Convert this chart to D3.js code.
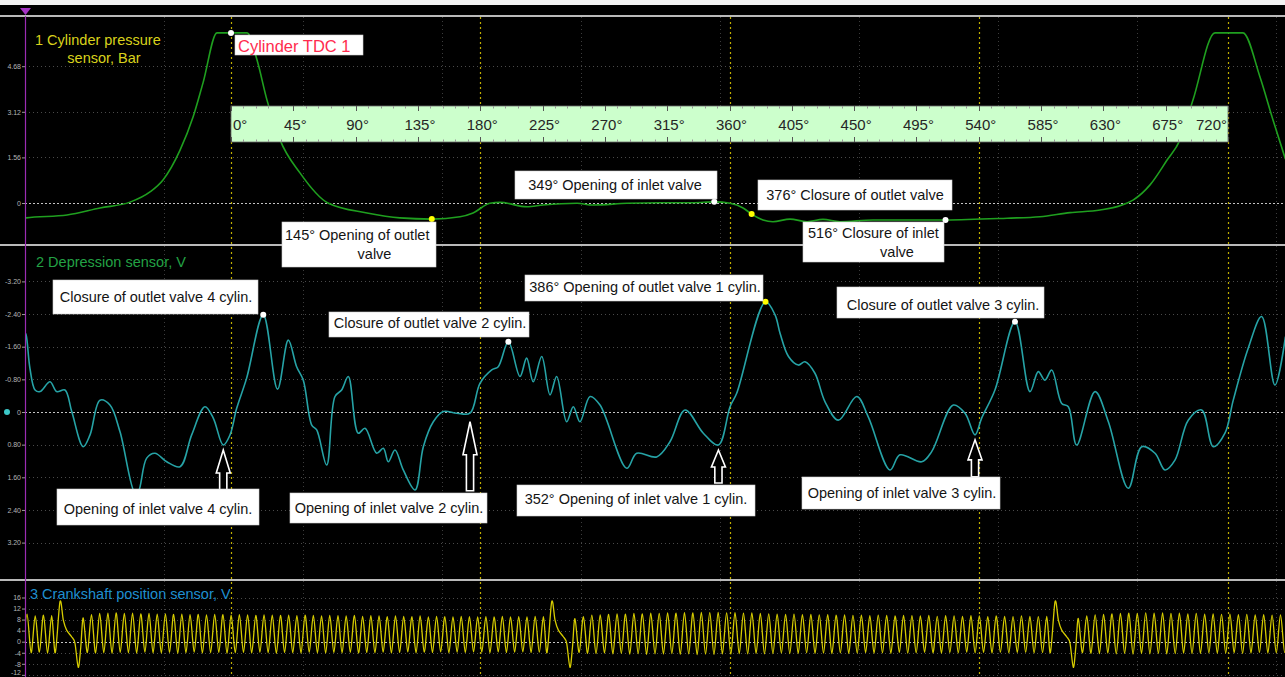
<!DOCTYPE html>
<html>
<head>
<meta charset="utf-8">
<script src="https://cdn.jsdelivr.net/npm/d3@7"></script>
<style>
  html, body { margin: 0; padding: 0; background: #000; overflow: hidden; }
  svg { display: block; font-family: "Liberation Sans", Arial, sans-serif; }
</style>
</head>
<body>
<svg id="chart" width="1285" height="677"></svg>
<script>
// ---------------- data ----------------
// Channel 1: cylinder pressure, [crank angle °, bar]
const pressure = [
  [-149, -0.52], [-148, -0.51], [-118.4, -0.41], [-94.6, -0.17], [-72.9, 0.03], [-58.5, 0.38],
  [-49.1, 0.79], [-36.8, 1.81], [-27.4, 2.94], [-20.2, 4.11], [-10.1, 5.82], [0, 5.82], [11.6, 5.82],
  [18.8, 4.89], [26, 3.52], [35.4, 2.16], [49.8, 1.03], [70, 0], [98.2, -0.34], [122, -0.51],
  [145, -0.55], [165.4, -0.47], [174.8, -0.34], [187, -0.01], [194.3, 0.02], [213.8, -0.13],
  [225.3, -0.07], [249.9, -0.01], [261.4, -0.07], [286, -0.01], [309.8, 0.01], [333.6, 0.01],
  [349, 0.04], [360.4, -0.01], [369.8, -0.17], [376, -0.38], [384.2, -0.58], [391.4, -0.64],
  [403.7, -0.55], [416, -0.64], [427.5, -0.56], [439.8, -0.64], [463.6, -0.58], [488.2, -0.58],
  [516, -0.58], [560.4, -0.52], [584.2, -0.47], [606, -0.33], [627.6, -0.24], [651.4, 0.10],
  [663.7, 0.62], [676, 1.47], [685.4, 2.16], [694.7, 3.52], [710.6, 5.82], [720, 5.82],
  [730.8, 5.82], [743.1, 4.31], [752.5, 2.84], [761.5, 1.50]
];
const pressureTicks = [0, 1.56, 3.12, 4.68];

// Channel 2: depression sensor, [crank angle °, V]
const depression = [
  [-149, -1.95], [-148, -1.89], [-145.2, -1.07], [-141.5, -0.54], [-137.9, -0.50], [-130.7, -0.74],
  [-125.9, -0.50], [-119.9, -0.54], [-115.0, -0.01], [-106.7, 0.85], [-101.8, 0.56], [-94.6, -0.29],
  [-87.4, -0.17], [-80.2, 0.48], [-69.3, 1.99], [-66.9, 1.95], [-60.9, 1.13], [-54.9, 1.01],
  [-46.4, 1.22], [-36.8, 1.34], [-28.4, 0.56], [-18.8, -0.13], [-12.8, 0.15], [-5.6, 0.81],
  [-0.7, 0.56], [4.1, -0.09], [11.3, -0.83], [23.3, -2.38], [33.6, -0.56], [41.4, -1.76],
  [47.4, -1.11], [52.2, -0.78], [58.3, 0.32], [61.9, 0.44], [69.1, 1.30], [75.1, -0.38],
  [79.9, -0.54], [84.7, -0.87], [91.9, 0.52], [96.8, 0.40], [105.2, 1.01], [110.0, 0.89],
  [113.6, 1.22], [118.4, 0.93], [124.4, 1.42], [132.9, 1.91], [138.9, 0.85], [146.1, 0.24],
  [153.3, -0.01], [163.0, 0.03], [172.6, 0.03], [179.8, -0.70], [188.3, -1.03], [193.0, -1.11],
  [200.3, -1.72], [208.7, -0.87], [213.5, -1.32], [218.3, -0.74], [224.4, -1.36], [230.4, -0.42],
  [235.2, -0.87], [242.4, 0.24], [247.2, -0.13], [252.0, 0.24], [259.3, -0.38], [266.5, -0.17],
  [285.8, 1.38], [293.0, 1.01], [307.4, 1.10], [317.0, 0.73], [327.9, -0.05], [341.1, 0.52],
  [352, 0.81], [360.4, -0.13], [365.2, -0.46], [386, -2.70], [392.9, -2.38], [396.5, -1.93],
  [402.6, -1.36], [409.7, -1.15], [414.5, -1.23], [421.7, -0.95], [429.0, -0.25], [438.6, 0.20],
  [451.9, -0.38], [460.2, 0.12], [475.9, 1.42], [483.1, 1.05], [498.8, 1.22], [506.0, 0.97],
  [521.6, -0.17], [530.1, 0.03], [537.3, 0.56], [542.1, 0.15], [551.7, -0.54], [566.2, -2.21],
  [577.0, -0.50], [583.0, -0.99], [587.8, -0.78], [592.7, -1.03], [599.9, -0.21], [604.7, -0.13],
  [610.7, 0.81], [624.0, -0.50], [633.6, 0.24], [648.0, 1.87], [657.7, 0.85], [667.3, 1.01],
  [674.5, 1.42], [681.7, 1.18], [691.3, 0.20], [701.0, -0.05], [709.4, 0.85], [717.8, 0.52],
  [723.8, -0.29], [734.6, -1.56], [744.3, -2.34], [753.9, -0.66], [761.5, -1.85]
];
const depressionTicks = [-3.2, -2.4, -1.6, -0.8, 0, 0.8, 1.6, 2.4, 3.2];

// Channel 3: crankshaft position sensor (60-2 wheel)
// angles of the missing-tooth spike in each revolution
const crankGapDeg = [-123.5, 231.6, 595.1];
// waveform around the missing teeth, [° from spike, V]
const crankGapShape = [[-3.4, -4.0], [0, 14.5], [2.4, 7.8], [4.8, 4.2], [8.4, 1.8], [10.8, -0.5], [13.2, -9.3], [15.0, -2.0]];
const crankLastToothBefore = 6.0;   // last regular tooth peak, ° before spike
const crankFirstToothAfter = 16.8;  // first regular tooth peak, ° after spike
// tooth peak / trough voltages per revolution segment
const crankPeaksA = [10.0, 9.3, 9.6, 9.4];
const crankTroughsA = [-4.0, -3.8, -4.1];
const crankPeaksB = [
  8.6, 9.8, 10.2, 10.3, 10.4, 10.2, 10.3, 10.1, 10.2, 10.0,
  10.1, 9.9, 10.0, 9.8, 9.9, 9.7, 9.9, 9.8, 9.6, 9.8,
  9.7, 9.5, 9.7, 9.6, 9.5, 9.6, 9.4, 9.6, 9.5, 9.3,
  9.5, 9.4, 9.3, 9.5, 9.2, 9.4, 9.3, 9.1, 9.3, 9.2,
  9.1, 9.3, 9.0, 9.2, 9.1, 9.0, 9.2, 9.1, 9.0, 9.1,
  9.0, 9.2, 9.0, 9.1, 9.0, 9.2, 9.1
];
const crankTroughsB = [
  -3.9, -4.1, -4.0, -4.2, -3.9, -4.0, -4.1, -3.8, -4.0, -4.1,
  -3.9, -4.2, -4.0, -3.8, -4.1, -4.0, -3.9, -4.2, -4.0, -3.9,
  -4.1, -3.8, -4.0, -4.2, -3.9, -4.0, -4.1, -3.8, -4.0, -4.1,
  -3.9, -4.0, -3.8, -4.1, -3.9, -4.0, -3.8, -4.1, -3.9, -3.7,
  -4.0, -3.8, -3.9, -3.7, -4.0, -3.8, -3.9, -3.7, -3.8, -4.0,
  -3.7, -3.9, -3.8, -3.7, -3.9, -3.8
];
const crankPeaksC = [
  8.3, 9.1, 9.6, 9.7, 9.9, 10.1, 10.0, 10.2, 10.1, 10.3,
  10.2, 10.4, 10.3, 10.5, 10.4, 10.6, 10.5, 10.6, 10.4, 10.5,
  10.3, 10.4, 10.2, 10.1, 10.0, 9.9, 10.0, 9.8, 9.9, 9.7,
  9.8, 9.6, 9.7, 9.5, 9.6, 9.4, 9.6, 9.5, 9.3, 9.5,
  9.4, 9.3, 9.5, 9.2, 9.4, 9.3, 9.2, 9.4, 9.3, 9.1,
  9.3, 9.2, 9.1, 9.3, 9.2, 9.1, 9.2
];
const crankTroughsC = [
  -3.9, -4.2, -4.3, -4.1, -4.4, -4.2, -4.5, -4.3, -4.6, -4.4,
  -4.5, -4.3, -4.6, -4.4, -4.7, -4.5, -4.6, -4.4, -4.5, -4.3,
  -4.4, -4.2, -4.4, -4.3, -4.1, -4.3, -4.2, -4.0, -4.2, -4.1,
  -4.3, -4.0, -4.2, -4.1, -3.9, -4.1, -4.0, -4.2, -3.9, -4.1,
  -4.0, -3.8, -4.0, -4.1, -3.9, -4.0, -3.8, -4.0, -3.9, -4.1,
  -3.8, -4.0, -3.9, -3.8, -4.0, -3.9
];
const crankPeaksD = [
  8.4, 9.3, 9.7, 9.9, 10.1, 10.2, 10.3, 10.2, 10.4, 10.3,
  10.4, 10.2, 10.3, 10.1, 10.2, 10.0, 10.1, 9.9, 10.0, 9.8,
  9.9, 9.7, 9.8, 9.6, 9.7, 9.6
];
const crankTroughsD = [
  -4.0, -4.2, -4.3, -4.1, -4.4, -4.2, -4.5, -4.3, -4.4, -4.2,
  -4.4, -4.3, -4.1, -4.3, -4.2, -4.0, -4.2, -4.1, -4.0, -4.2,
  -4.1, -3.9, -4.1, -4.0, -3.9
];
const crankTicks = [-12, -8, -4, 0, 4, 8, 12, 16];

// Crank-angle overlay scale labels
const angleLabels = d3.range(0, 721, 45);

// Event markers on the pressure trace
const pressureEvents = [
  { deg: 0, color: "#ffffff" },
  { deg: 145, color: "#ffff00" },
  { deg: 349, color: "#ffffff" },
  { deg: 376, color: "#ffff00" },
  { deg: 516, color: "#ffffff" }
];
// Event markers on the depression trace
const depressionEvents = [
  { deg: 23.3, color: "#ffffff" },
  { deg: 200.3, color: "#ffffff" },
  { deg: 386, color: "#ffff00" },
  { deg: 566.2, color: "#ffffff" }
];
// Inlet-valve opening arrows on the depression trace
const depressionArrows = [
  { deg: -5.6, gap: 5, len: 43, head: 23 },
  { deg: 172.6, gap: 8.5, len: 69, head: 33 },
  { deg: 352, gap: 5, len: 33, head: 17 },
  { deg: 537.3, gap: 5, len: 37, head: 20 }
];

// ---------------- layout ----------------
const W = 1285, H = 677;
const plotL = 25, plotR = 1285;
const panels = {
  p1: { top: 17, bottom: 244 },
  p2: { top: 246, bottom: 579 },
  p3: { top: 581, bottom: 677 }
};

const x = d3.scaleLinear().domain([0, 720]).range([231, 1228]);
const yP = d3.scaleLinear().domain([0, 4.68]).range([203, 66.2]);
const yD = d3.scaleLinear().domain([-3.2, 3.2]).range([281.4, 542.6]);
const yC = d3.scaleLinear().domain([0, 16]).range([641.7, 597.5]);

const svg = d3.select("#chart");
const defs = svg.append("defs");
Object.entries(panels).forEach(([k, p]) => {
  defs.append("clipPath").attr("id", "clip-" + k)
    .append("rect").attr("x", plotL + 1).attr("y", p.top)
    .attr("width", plotR - plotL).attr("height", p.bottom - p.top);
});

svg.append("rect").attr("width", W).attr("height", H).attr("fill", "#000");
svg.append("rect").attr("x", 0).attr("y", 0).attr("width", W).attr("height", 5).attr("fill", "#f3f3f3");

// ---- grids ----
const grid = svg.append("g");
const timeStep = x.invert(164) - x.invert(25);
const timeGrid = d3.range(x.invert(plotL) + timeStep, 765, timeStep);

function hGrid(scale, ticks, p) {
  ticks.forEach(v => {
    grid.append("line")
      .attr("x1", plotL).attr("x2", plotR)
      .attr("y1", Math.round(scale(v)) + 0.5).attr("y2", Math.round(scale(v)) + 0.5)
      .attr("stroke", v === 0 ? "#c4c4c4" : "#4a4a4a")
      .attr("stroke-width", 1)
      .attr("stroke-dasharray", v === 0 ? "2,2" : "1,3");
  });
  timeGrid.forEach(d => {
    grid.append("line")
      .attr("x1", Math.round(x(d)) + 0.5).attr("x2", Math.round(x(d)) + 0.5)
      .attr("y1", p.top).attr("y2", p.bottom)
      .attr("stroke", "#3c3c3c").attr("stroke-dasharray", "1,3");
  });
}
hGrid(yP, pressureTicks, panels.p1);
hGrid(yD, depressionTicks, panels.p2);
hGrid(yC, crankTicks, panels.p3);

// TDC / BDC markers every 180°
d3.range(0, 721, 180).forEach(d => {
  grid.append("line")
    .attr("x1", Math.round(x(d)) + 0.5).attr("x2", Math.round(x(d)) + 0.5)
    .attr("y1", 17).attr("y2", H)
    .attr("stroke", "#bfae00").attr("stroke-width", 1.2)
    .attr("stroke-dasharray", "2,3");
});

// ---- panel frames ----
[16, 245, 580].forEach(yy => {
  svg.append("line").attr("x1", 0).attr("x2", W).attr("y1", yy).attr("y2", yy)
    .attr("stroke", "#b9b9b9").attr("stroke-width", 2);
});
svg.append("line").attr("x1", plotL + 0.5).attr("x2", plotL + 0.5).attr("y1", 16).attr("y2", H)
  .attr("stroke", "#9b2cb3").attr("stroke-width", 1.2);
svg.append("path").attr("d", "M20,8 L31,8 L25.5,15 Z").attr("fill", "#a533c4");

// ---- y axes ----
function yAxis(scale, ticks, fmt) {
  const g = svg.append("g").attr("transform", `translate(${plotL},0)`)
    .call(d3.axisLeft(scale).tickValues(ticks).tickFormat(fmt).tickSize(3).tickPadding(1));
  g.select(".domain").remove();
  g.selectAll("line").attr("stroke", "#9a9a9a");
  g.selectAll("text").attr("fill", "#b5b5b5").attr("font-size", 7)
    .attr("font-family", "Liberation Sans, Arial, sans-serif");
  return g;
}
yAxis(yP, pressureTicks, v => v === 0 ? "0" : v.toFixed(2));
yAxis(yD, depressionTicks, v => v === 0 ? "0" : v.toFixed(2));
const crankAxis = yAxis(yC, crankTicks, v => String(v));
// keep the lowest label inside the frame
crankAxis.selectAll(".tick").filter(v => v === -12).select("text").attr("dy", "-0.1em");

// ---- traces ----
const lineP = d3.line().x(d => x(d[0])).y(d => yP(d[1])).curve(d3.curveMonotoneX);
svg.append("path").datum(pressure).attr("clip-path", "url(#clip-p1)")
  .attr("d", lineP).attr("fill", "none").attr("stroke", "#1f9f1f").attr("stroke-width", 1.6);

const lineD = d3.line().x(d => x(d[0])).y(d => yD(d[1])).curve(d3.curveCatmullRom.alpha(0.5));
svg.append("path").datum(depression).attr("clip-path", "url(#clip-p2)")
  .attr("d", lineD).attr("fill", "none").attr("stroke", "#26a3a6").attr("stroke-width", 1.6);

// crank signal assembled tooth by tooth
function teeth(start, pitch, peaks, troughs) {
  const pts = [];
  peaks.forEach((p, i) => {
    pts.push([start + i * pitch, p]);
    if (i < troughs.length) pts.push([start + (i + 0.5) * pitch, troughs[i]]);
  });
  return pts;
}
const pitchB = (crankGapDeg[1] - crankLastToothBefore - (crankGapDeg[0] + crankFirstToothAfter)) / (crankPeaksB.length - 1);
const pitchC = (crankGapDeg[2] - crankLastToothBefore - (crankGapDeg[1] + crankFirstToothAfter)) / (crankPeaksC.length - 1);
const gapPts = g => crankGapShape.map(([o, v]) => [g + o, v]);
const crank = [].concat(
  [[crankGapDeg[0] - crankLastToothBefore - (crankPeaksA.length - 0.5) * pitchB, -3.9]],
  teeth(crankGapDeg[0] - crankLastToothBefore - (crankPeaksA.length - 1) * pitchB, pitchB, crankPeaksA, crankTroughsA),
  gapPts(crankGapDeg[0]),
  teeth(crankGapDeg[0] + crankFirstToothAfter, pitchB, crankPeaksB, crankTroughsB),
  gapPts(crankGapDeg[1]),
  teeth(crankGapDeg[1] + crankFirstToothAfter, pitchC, crankPeaksC, crankTroughsC),
  gapPts(crankGapDeg[2]),
  teeth(crankGapDeg[2] + crankFirstToothAfter, pitchC, crankPeaksD, crankTroughsD)
);
const lineC = d3.line().x(d => x(d[0])).y(d => yC(d[1])).curve(d3.curveCardinal.tension(0.1));
svg.append("path").datum(crank).attr("clip-path", "url(#clip-p3)")
  .attr("d", lineC).attr("fill", "none").attr("stroke", "#d6cc00").attr("stroke-width", 1.3);

// ---- channel titles ----
const ttl = svg.append("g").attr("font-size", 14.5);
ttl.append("text").attr("x", 35).attr("y", 45).attr("fill", "#d9d21c").text("1 Cylinder pressure");
ttl.append("text").attr("x", 104).attr("y", 63).attr("text-anchor", "middle").attr("fill", "#d9d21c").text("sensor, Bar");
ttl.append("text").attr("x", 36).attr("y", 267).attr("fill", "#23a245").text("2 Depression sensor, V");
ttl.append("text").attr("x", 30).attr("y", 599).attr("fill", "#1f8fd0").text("3 Crankshaft position sensor, V");
svg.append("circle").attr("cx", 7).attr("cy", yD(0)).attr("r", 3).attr("fill", "#3cc8c8");

// ---- crank-angle overlay scale ----
const strip = svg.append("g");
const sTop = 106, sBot = 142;
strip.append("rect").attr("x", x(0)).attr("y", sTop).attr("width", x(720) - x(0)).attr("height", sBot - sTop)
  .attr("fill", "#ccffcc").attr("stroke", "#6a6a6a").attr("stroke-width", 0.8);
d3.range(0, 721, 9).forEach(d => {
  const major = d % 45 === 0;
  const len = major ? 5 : 2.5;
  const xx = Math.round(x(d)) + 0.5;
  strip.append("line").attr("x1", xx).attr("x2", xx).attr("y1", sTop).attr("y2", sTop + len)
    .attr("stroke", major ? "#555" : "#999").attr("stroke-width", 1);
  strip.append("line").attr("x1", xx).attr("x2", xx).attr("y1", sBot - len).attr("y2", sBot)
    .attr("stroke", major ? "#555" : "#999").attr("stroke-width", 1);
});
angleLabels.forEach(d => {
  const anchor = d === 0 ? "start" : d === 720 ? "end" : "middle";
  const xx = d === 0 ? x(0) + 2 : d === 720 ? x(720) - 1 : x(d) + 2;
  strip.append("text").attr("x", xx).attr("y", 130).attr("text-anchor", anchor)
    .attr("font-size", 15).attr("fill", "#262626").text(d + "°");
});

// ---- event dots ----
const interp = (data, deg) => {
  const i = d3.bisector(d => d[0]).left(data, deg);
  const a = data[Math.max(0, i - 1)], b = data[Math.min(data.length - 1, i)];
  if (b[0] === a[0]) return b[1];
  return a[1] + (b[1] - a[1]) * (deg - a[0]) / (b[0] - a[0]);
};
pressureEvents.forEach(e => {
  svg.append("circle").attr("cx", x(e.deg)).attr("cy", yP(interp(pressure, e.deg)))
    .attr("r", 3).attr("fill", e.color);
});
depressionEvents.forEach(e => {
  svg.append("circle").attr("cx", x(e.deg)).attr("cy", yD(interp(depression, e.deg)))
    .attr("r", 3).attr("fill", e.color);
});

// ---- arrows ----
depressionArrows.forEach(a => {
  const cx = x(a.deg);
  const tip = yD(interp(depression, a.deg)) + a.gap;
  const base = tip + a.head, bot = tip + a.len;
  const hw = 7, sw = 3.6;
  svg.append("path")
    .attr("d", `M${cx},${tip} L${cx + hw},${base} L${cx + sw},${base} L${cx + sw},${bot} L${cx - sw},${bot} L${cx - sw},${base} L${cx - hw},${base} Z`)
    .attr("fill", "#000").attr("stroke", "#ffffff").attr("stroke-width", 1.6).attr("stroke-linejoin", "miter");
});

// ---- callout boxes ----
const notes = [
  { box: [235, 35, 128, 20], color: "#ff2b4e", size: 16.5, lines: [{ t: "Cylinder TDC 1", x: 238, y: 51.5, a: "start" }] },
  { box: [282, 222, 154, 45], lines: [{ t: "145° Opening of outlet", x: 285, y: 240, a: "start" }, { t: "valve", x: 374.5, y: 258.5, a: "middle" }] },
  { box: [515, 171, 202, 28], lines: [{ t: "349° Opening of inlet valve", x: 615, y: 189.5, a: "middle" }] },
  { box: [758, 180, 194, 30], lines: [{ t: "376° Closure of outlet valve", x: 855, y: 199.5, a: "middle" }] },
  { box: [803, 222, 141, 40], lines: [{ t: "516° Closure of inlet", x: 808, y: 237.5, a: "start" }, { t: "valve", x: 897, y: 257, a: "middle" }] },
  { box: [53, 280, 205, 34], lines: [{ t: "Closure of outlet valve 4 cylin.", x: 156, y: 302, a: "middle" }] },
  { box: [57, 489, 202, 36], lines: [{ t: "Opening of inlet valve 4 cylin.", x: 158, y: 513.5, a: "middle" }] },
  { box: [329, 312, 200, 25], lines: [{ t: "Closure of outlet valve 2 cylin.", x: 430, y: 327.5, a: "middle" }] },
  { box: [290, 493, 197, 30], lines: [{ t: "Opening of inlet valve 2 cylin.", x: 389, y: 513, a: "middle" }] },
  { box: [525, 275, 238, 26], lines: [{ t: "386° Opening of outlet valve 1 cylin.", x: 645, y: 292, a: "middle" }] },
  { box: [517, 485, 238, 31], lines: [{ t: "352° Opening of inlet valve 1 cylin.", x: 636, y: 504, a: "middle" }] },
  { box: [837, 287, 207, 31], lines: [{ t: "Closure of outlet valve 3 cylin.", x: 943, y: 309.5, a: "middle" }] },
  { box: [802, 477, 198, 32], lines: [{ t: "Opening of inlet valve 3 cylin.", x: 902, y: 498, a: "middle" }] }
];
notes.forEach(n => {
  const g = svg.append("g");
  g.append("rect").attr("x", n.box[0]).attr("y", n.box[1]).attr("width", n.box[2]).attr("height", n.box[3])
    .attr("fill", "#ffffff").attr("stroke", "#d0d0d0").attr("stroke-width", 0.6);
  n.lines.forEach(l => {
    g.append("text").attr("x", l.x).attr("y", l.y).attr("text-anchor", l.a)
      .attr("font-size", n.size || 14.5).attr("fill", n.color || "#141414").text(l.t);
  });
});
</script>
</body>
</html>
